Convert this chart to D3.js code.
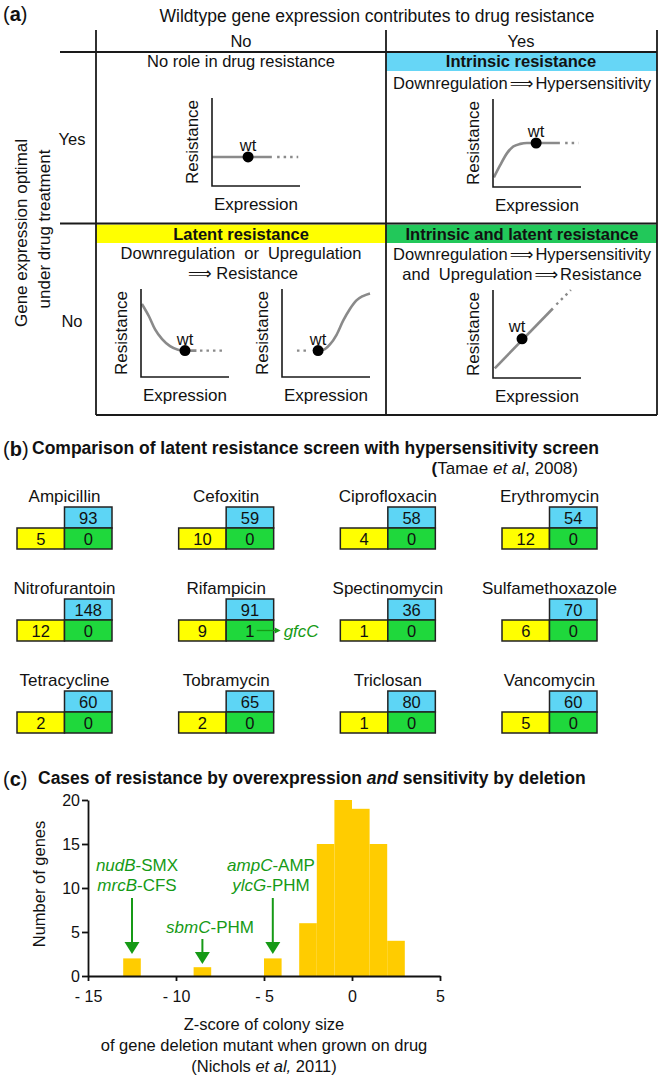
<!DOCTYPE html>
<html><head><meta charset="utf-8">
<script src="https://cdn.jsdelivr.net/npm/d3@7"></script>
<style>
body{margin:0;background:#fff}
svg{display:block}
text{font-family:"Liberation Sans",Arial,Helvetica,sans-serif;fill:#111}
</style>
</head><body>
<svg id="fig" width="661" height="1078"></svg>
<script>
// ---------------- DATA ----------------
// Panel (a) schematic curves, normalized [expression, resistance]
const noRoleSolid = [[0,0.33],[0.68,0.33]];
const noRoleDotted = [[0.74,0.33],[0.98,0.33]];
const noRoleWt = [0.41,0.33];
const intrinsicSolid = [[0.01,0.11],[0.08,0.245],[0.16,0.385],[0.23,0.46],[0.31,0.49],[0.385,0.5],[0.76,0.5]];
const intrinsicDotted = [[0.82,0.5],[0.97,0.5]];
const intrinsicWt = [0.49,0.5];
const latentDownSolid = [[0.01,0.83],[0.09,0.69],[0.16,0.54],[0.24,0.43],[0.33,0.35],[0.42,0.31],[0.5,0.30],[0.63,0.30]];
const latentDownDotted = [[0.67,0.30],[0.92,0.30]];
const latentDownWt = [0.5,0.30];
const latentUpSolid = [[0.36,0.30],[0.47,0.31],[0.545,0.37],[0.62,0.48],[0.695,0.64],[0.77,0.77],[0.846,0.87],[0.92,0.92],[1.0,0.95]];
const latentUpDotted = [[0.17,0.30],[0.30,0.30]];
const latentUpWt = [0.41,0.30];
const bothSolid = [[0.02,0.11],[0.68,0.79]];
const bothDotted = [[0.72,0.835],[0.885,1.0]];
const bothWt = [0.33,0.445];

// Panel (b)
const drugs = ["Ampicillin","Cefoxitin","Ciprofloxacin","Erythromycin",
  "Nitrofurantoin","Rifampicin","Spectinomycin","Sulfamethoxazole",
  "Tetracycline","Tobramycin","Triclosan","Vancomycin"];
const hyperCounts  = [93,59,58,54,148,91,36,70,60,65,80,60];
const latentCounts = [5,10,4,12,12,9,1,6,2,2,1,5];
const bothCounts   = [0,0,0,0,0,1,0,0,0,0,0,0];

// Panel (c)
const binStarts  = [-13,-9,-5,-3,-2,-1,0,1,2];
const geneCounts = [2,1,2,6,15,20,19,15,4];
const xTicks = [-15,-10,-5,0,5];
const yTicks = [0,5,10,15,20];

// ---------------- STYLE ----------------
const C = {
  blueHdr:"#66d6f6", yellow:"#ffff00", greenHdr:"#22c85a",
  boxBlue:"#5dd5f5", boxGreen:"#1fd83c", bar:"#ffcc00",
  annot:"#169a16", curve:"#8a8a8a", line:"#1a1a1a"
};
const ARROW = "\u27F9";

const svg = d3.select("#fig");

function rich(parent, x, y, segs, o={}) {
  const t = parent.append("text").attr("x",x).attr("y",y)
    .attr("text-anchor", o.anchor||"start")
    .style("font-size",(o.size||16)+"px");
  if (o.weight) t.style("font-weight",o.weight);
  if (o.fill) t.style("fill",o.fill);
  if (o.transform) t.attr("transform",o.transform);
  segs.forEach(s=>{
    const ts = t.append("tspan").text(s.t);
    if (s.b) ts.style("font-weight","bold");
    if (s.i) ts.style("font-style","italic");
    if (s.arrow) ts.style("font-family","'DejaVu Sans',sans-serif").style("font-weight","normal").attr("dx",2);
    if (s.dx) ts.attr("dx",s.dx);
  });
  return t;
}
function hline(g,x1,x2,y,w=1.8){g.append("line").attr("x1",x1).attr("x2",x2).attr("y1",y).attr("y2",y).attr("stroke",C.line).attr("stroke-width",w);}
function vline(g,x,y1,y2,w=1.8){g.append("line").attr("x1",x).attr("x2",x).attr("y1",y1).attr("y2",y2).attr("stroke",C.line).attr("stroke-width",w);}

// ---------------- PANEL A ----------------
const A = svg.append("g");
rich(A, 3, 21, [{t:"("},{t:"a",b:true},{t:")"}], {size:20});
rich(A, 377, 22, [{t:"Wildtype gene expression contributes to drug resistance"}], {size:17.5, anchor:"middle"});
rich(A, 241, 47, [{t:"No"}], {size:16.5, anchor:"middle"});
rich(A, 521, 47, [{t:"Yes"}], {size:16.5, anchor:"middle"});

// header colour bars
A.append("rect").attr("x",386).attr("y",52.5).attr("width",271).attr("height",18.5).attr("fill",C.blueHdr);
A.append("rect").attr("x",96).attr("y",224.5).attr("width",290).attr("height",18.5).attr("fill",C.yellow);
A.append("rect").attr("x",386).attr("y",224.5).attr("width",271).attr("height",18.5).attr("fill",C.greenHdr);

// grid
vline(A,96,30,415); vline(A,386,30,415); vline(A,657,30,415);
hline(A,60,657,52); hline(A,60,657,223.5); hline(A,96,657,415);

rich(A, 241, 67, [{t:"No role in drug resistance"}], {size:16.5, anchor:"middle"});
rich(A, 521, 67, [{t:"Intrinsic resistance"}], {size:16.5, anchor:"middle", weight:"bold"});
rich(A, 522, 88.5, [{t:"Downregulation"},{t:ARROW,arrow:true},{t:"Hypersensitivity",dx:2}], {size:16.5, anchor:"middle"});
rich(A, 241, 240, [{t:"Latent resistance"}], {size:16.5, anchor:"middle", weight:"bold"});
rich(A, 522, 240, [{t:"Intrinsic and latent resistance"}], {size:16.5, anchor:"middle", weight:"bold"});
rich(A, 241, 259, [{t:"Downregulation"},{t:"or",dx:9},{t:"Upregulation",dx:9}], {size:16.5, anchor:"middle"});
rich(A, 241, 279, [{t:ARROW,arrow:true},{t:" Resistance"}], {size:16.5, anchor:"middle"});
rich(A, 522, 260, [{t:"Downregulation"},{t:ARROW,arrow:true},{t:"Hypersensitivity",dx:2}], {size:16.5, anchor:"middle"});
rich(A, 522, 280, [{t:"and"},{t:"Upregulation",dx:9},{t:ARROW,arrow:true},{t:"Resistance",dx:2}], {size:16.5, anchor:"middle"});

// row labels
rich(A, 72, 145, [{t:"Yes"}], {size:16.5, anchor:"middle"});
rich(A, 72, 327, [{t:"No"}], {size:16.5, anchor:"middle"});
rich(A, 0, 0, [{t:"Gene expression optimal"}], {size:17, anchor:"middle", transform:"translate(27,233) rotate(-90)"});
rich(A, 0, 0, [{t:"under drug treatment"}], {size:17, anchor:"middle", transform:"translate(49.5,229) rotate(-90)"});

function miniChart(ox, oy, solid, dotted, wt, wtDx, wtDy) {
  const W = 88, H = 88;
  const x = d3.scaleLinear().domain([0,1]).range([ox, ox+W]);
  const y = d3.scaleLinear().domain([0,1]).range([oy, oy-H]);
  const g = A.append("g");
  const line = d3.line().x(d=>x(d[0])).y(d=>y(d[1])).curve(d3.curveMonotoneX);
  g.append("path").attr("d",line(solid)).attr("fill","none").attr("stroke",C.curve).attr("stroke-width",2.6);
  g.append("path").attr("d",line(dotted)).attr("fill","none").attr("stroke",C.curve).attr("stroke-width",2.4).attr("stroke-dasharray","2.5,4");
  g.append("path").attr("d",`M${x(0)},${y(1)}V${y(0)}H${x(1)}`).attr("fill","none").attr("stroke",C.line).attr("stroke-width",1.6);
  g.append("circle").attr("cx",x(wt[0])).attr("cy",y(wt[1])).attr("r",5.5).attr("fill","#000");
  rich(g, x(wt[0])+wtDx, y(wt[1])+wtDy, [{t:"wt"}], {size:16.5, anchor:"middle"});
  rich(g, 0, 0, [{t:"Resistance"}], {size:17, anchor:"middle", transform:`translate(${ox-14},${oy-H/2}) rotate(-90)`});
  rich(g, x(0.5), oy+24, [{t:"Expression"}], {size:17, anchor:"middle"});
}
miniChart(212,186, noRoleSolid, noRoleDotted, noRoleWt, 0, -6);
miniChart(493,187, intrinsicSolid, intrinsicDotted, intrinsicWt, 0, -6);
miniChart(141,377, latentDownSolid, latentDownDotted, latentDownWt, 0, -6);
miniChart(282,377, latentUpSolid, latentUpDotted, latentUpWt, 0, -6);
miniChart(493,378, bothSolid, bothDotted, bothWt, -5, -7);

// ---------------- PANEL B ----------------
const B = svg.append("g");
rich(B, 3, 456, [{t:"("},{t:"b",b:true},{t:")"}], {size:20});
rich(B, 32, 454, [{t:"Comparison of latent resistance screen with hypersensitivity screen"}], {size:17.5, weight:"bold"});
rich(B, 578, 474, [{t:"(",b:true},{t:"Tamae "},{t:"et al",i:true},{t:", 2008)"}], {size:17, anchor:"end"});

const colX = d3.scaleLinear().domain([0,3]).range([17,502]);
const rowY = d3.scaleLinear().domain([0,2]).range([507,691]);
const bw = 47.5, bh = 21;
drugs.forEach((name,i)=>{
  const x0 = colX(i%4), y0 = rowY(Math.floor(i/4));
  const g = B.append("g");
  rich(g, x0+bw, y0-5, [{t:name}], {size:17, anchor:"middle"});
  const cells = [
    {x:x0+bw, y:y0, fill:C.boxBlue, v:hyperCounts[i]},
    {x:x0, y:y0+bh, fill:C.yellow, v:latentCounts[i]},
    {x:x0+bw, y:y0+bh, fill:C.boxGreen, v:bothCounts[i]}
  ];
  cells.forEach(c=>{
    g.append("rect").attr("x",c.x).attr("y",c.y).attr("width",bw).attr("height",bh)
      .attr("fill",c.fill).attr("stroke","#222").attr("stroke-width",1.5);
    rich(g, c.x+bw/2, c.y+bh/2+6, [{t:String(c.v)}], {size:16.5, anchor:"middle"});
  });
  if (bothCounts[i] > 0) {
    const ay = y0+bh*1.5;
    g.append("line").attr("x1",x0+2*bw-17).attr("x2",x0+2*bw+3).attr("y1",ay).attr("y2",ay)
      .attr("stroke",C.annot).attr("stroke-width",1.3);
    g.append("path").attr("d",`M${x0+2*bw+7},${ay}l-6,-3v6z`).attr("fill",C.annot);
    rich(g, x0+2*bw+10, ay+6, [{t:"gfcC",i:true}], {size:17, fill:C.annot});
  }
});

// ---------------- PANEL C ----------------
const Cg = svg.append("g");
rich(Cg, 3, 786, [{t:"("},{t:"c",b:true},{t:")"}], {size:20});
rich(Cg, 38, 784, [{t:"Cases of resistance by overexpression "},{t:"and",i:true},{t:" sensitivity by deletion"}], {size:17.5, weight:"bold"});

const xs = d3.scaleLinear().domain([-15,5]).range([88,440]);
const ys = d3.scaleLinear().domain([0,20]).range([976,800]);

Cg.selectAll("rect.bar").data(binStarts).enter().append("rect").attr("class","bar")
  .attr("x",d=>xs(d)).attr("width",d=>xs(d+1)-xs(d))
  .attr("y",(d,i)=>ys(geneCounts[i])).attr("height",(d,i)=>ys(0)-ys(geneCounts[i]))
  .attr("fill",C.bar);

const yAxis = Cg.append("g").attr("transform","translate(88,0)")
  .call(d3.axisLeft(ys).tickValues(yTicks).tickSize(6).tickSizeOuter(0).tickPadding(2));
const xAxis = Cg.append("g").attr("transform","translate(0,976)")
  .call(d3.axisBottom(xs).tickValues(xTicks).tickSize(5).tickSizeOuter(0).tickPadding(10)
    .tickFormat(d=> d<0 ? "- "+Math.abs(d) : String(d)));
[yAxis,xAxis].forEach(a=>{
  a.selectAll("path,line").attr("stroke","#111").attr("stroke-width",1.8);
  a.selectAll("text").style("font-size","16px").style("font-family",'"Liberation Sans",Arial,sans-serif').attr("fill","#111");
});

rich(Cg, 0, 0, [{t:"Number of genes"}], {size:16.5, anchor:"middle", transform:"translate(45,884) rotate(-90)"});
rich(Cg, 264, 1030, [{t:"Z-score of colony size"}], {size:16.5, anchor:"middle"});
rich(Cg, 264, 1051, [{t:"of gene deletion mutant when grown on drug"}], {size:16.5, anchor:"middle"});
rich(Cg, 264, 1072, [{t:"(Nichols "},{t:"et al,",i:true},{t:" 2011)"}], {size:16.5, anchor:"middle"});

function arrow(x, yTop, yTip) {
  Cg.append("line").attr("x1",x).attr("x2",x).attr("y1",yTop).attr("y2",yTip-10)
    .attr("stroke",C.annot).attr("stroke-width",2);
  Cg.append("path").attr("d",`M${x-7.5},${yTip-12}L${x+7.5},${yTip-12}L${x},${yTip}Z`).attr("fill",C.annot);
}
const ann = [
  {x:137, y:871, segs:[{t:"nudB",i:true},{t:"-SMX"}]},
  {x:137, y:891, segs:[{t:"mrcB",i:true},{t:"-CFS"}]},
  {x:271, y:871, segs:[{t:"ampC",i:true},{t:"-AMP"}]},
  {x:271, y:891, segs:[{t:"ylcG",i:true},{t:"-PHM"}]},
  {x:210, y:933, segs:[{t:"sbmC",i:true},{t:"-PHM"}]}
];
ann.forEach(a=>rich(Cg, a.x, a.y, a.segs, {size:17, anchor:"middle", fill:C.annot}));
arrow(xs(-12.5), 898, 954);
arrow(xs(-8.5), 939, 964);
arrow(xs(-4.5), 898, 954);
</script>
</body></html>
